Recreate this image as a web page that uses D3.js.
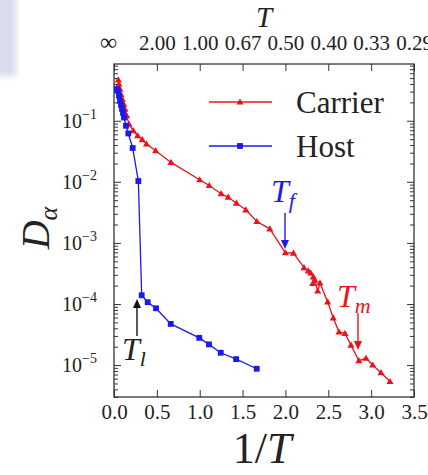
<!DOCTYPE html>
<html>
<head>
    <meta charset="utf-8">
    <title>D alpha vs 1/T</title>
    <style>
        body {
            margin: 0;
            background: #fff;
        }
        svg text {
            font-family: "Liberation Serif", "Times New Roman", "DejaVu Serif", "Noto Serif", serif !important;
            fill: #222;
        }
    </style>
    <script src="https://cdnjs.cloudflare.com/ajax/libs/d3/7.8.5/d3.min.js"></script>
</head>
<body>
    <div id="chart"></div>
    <script>
        // values (x = 1/T, y = D_alpha)
        const carrierX = [0.05, 0.058, 0.07, 0.082, 0.097, 0.113, 0.128, 0.148, 0.175, 0.225, 0.276, 0.33, 0.38, 0.486,
            0.665, 1.0, 1.111, 1.25, 1.333, 1.429, 1.538, 1.667, 1.818, 2.0, 2.094, 2.217, 2.267, 2.295, 2.325, 2.318,
            2.345, 2.377, 2.403, 2.493, 2.558, 2.625, 2.695, 2.765, 2.857, 2.94, 3.018, 3.115, 3.22];
        const carrierY = [0.467, 0.40, 0.33, 0.27, 0.226, 0.187, 0.155, 0.121, 0.088, 0.0687, 0.057, 0.049, 0.0416, 0.0324,
            0.0208, 0.0108, 0.0087, 0.0064, 0.0056, 0.00447, 0.00348, 0.00224, 0.0017, 0.00069, 0.00068, 3.94e-4, 3.47e-4,
            3.21e-4, 2.77e-4, 2.16e-4, 2.45e-4, 1.63e-4, 2.21e-4, 1.08e-4, 5.9e-5, 3.5e-5, 3.29e-5, 2.12e-5, 1.18e-5,
            1.29e-5, 1.0e-5, 7.5e-6, 5.37e-6];

        const hostX = [0.035, 0.045, 0.058, 0.07, 0.082, 0.093, 0.105, 0.117, 0.14, 0.167, 0.218, 0.284, 0.323, 0.393,
            0.49, 0.662, 0.995, 1.108, 1.245, 1.425, 1.665];
        const hostY = [0.33, 0.31, 0.257, 0.212, 0.182, 0.157, 0.135, 0.113, 0.0828, 0.062, 0.0358, 0.0103, 1.39e-4,
            1.07e-4, 8.5e-5, 4.72e-5, 2.79e-5, 2.18e-5, 1.59e-5, 1.25e-5, 8.7e-6];

        const xTicks = [0.0, 0.5, 1.0, 1.5, 2.0, 2.5, 3.0, 3.5];
        const topTickLabels = ['\u221E', '2.00', '1.00', '0.67', '0.50', '0.40', '0.33', '0.29'];
        const yExponents = [-1, -2, -3, -4, -5];

        const W = 428, H = 475;
        const m = { left: 114, right: 414, top: 64, bottom: 397 };
        const serif = '"Liberation Serif", "Times New Roman", "DejaVu Serif", serif';

        const svg = d3.select('#chart').append('svg')
            .attr('width', W)
            .attr('height', H)
            .attr('font-family', serif);

        // faint slide background at the top-left corner
        const defs = svg.append('defs');
        defs.append('filter').attr('id', 'blur')
            .append('feGaussianBlur').attr('stdDeviation', 3);
        svg.append('rect')
            .attr('x', -6).attr('y', -6).attr('width', 22).attr('height', 82)
            .attr('fill', '#d9dcef')
            .attr('filter', 'url(#blur)');

        const x = d3.scaleLinear().domain([0, 3.5]).range([m.left, m.right]);
        const y = d3.scaleLog().domain([3e-6, 0.85]).range([m.bottom, m.top]);

        const frame = '#333';

        // axes with inward ticks
        const bottomAxis = d3.axisBottom(x).tickValues(xTicks).tickSizeInner(-7).tickSizeOuter(0).tickFormat(d3.format('.1f'));
        const topAxis = d3.axisTop(x).tickValues(xTicks).tickSizeInner(-7).tickSizeOuter(0).tickFormat((d, i) => topTickLabels[i]);

        const majors = yExponents.map(e => Math.pow(10, e));
        const minors = [];
        for (let e = -6; e <= -1; e++) {
            for (let k = 2; k <= 9; k++) {
                const v = k * Math.pow(10, e);
                if (v >= 3e-6 && v <= 0.85) minors.push(v);
            }
        }

        const gB = svg.append('g').attr('transform', `translate(0,${m.bottom})`).call(bottomAxis);
        gB.selectAll('text').attr('dy', null).attr('y', 22).style('font-size', '21px');

        const gT = svg.append('g').attr('transform', `translate(0,${m.top})`).call(topAxis);
        gT.selectAll('text').attr('y', -14).style('font-size', '21px');
        gT.selectAll('text').filter((d, i) => i === 0).attr('x', -6).style('font-size', '24px');

        svg.append('g').attr('transform', `translate(${m.left},0)`)
            .call(d3.axisLeft(y).tickValues(majors).tickSizeInner(-7).tickSizeOuter(0).tickFormat(''));
        svg.append('g').attr('transform', `translate(${m.left},0)`)
            .call(d3.axisLeft(y).tickValues(minors).tickSizeInner(-4).tickSizeOuter(0).tickFormat(''));
        svg.append('g').attr('transform', `translate(${m.right},0)`)
            .call(d3.axisRight(y).tickValues(majors).tickSizeInner(-7).tickSizeOuter(0).tickFormat(''));
        svg.append('g').attr('transform', `translate(${m.right},0)`)
            .call(d3.axisRight(y).tickValues(minors).tickSizeInner(-4).tickSizeOuter(0).tickFormat(''));

        svg.selectAll('.domain').remove();
        svg.selectAll('g').attr('font-family', serif);
        svg.selectAll('.tick line').attr('stroke', frame).attr('stroke-width', 1);
        svg.selectAll('.tick text').attr('fill', '#222');

        // y tick labels 10^-n
        const yLab = svg.append('g');
        yExponents.forEach(e => {
            const t = yLab.append('text')
                .attr('x', 62)
                .attr('y', y(Math.pow(10, e)) + 7)
                .style('font-size', '20px');
            t.append('tspan').text('10');
            t.append('tspan').attr('dy', -9).style('font-size', '14px').text('\u2212' + (-e));
        });

        // frame
        svg.append('rect')
            .attr('x', m.left).attr('y', m.top)
            .attr('width', m.right - m.left).attr('height', m.bottom - m.top)
            .attr('fill', 'none')
            .attr('stroke', frame)
            .attr('stroke-width', 1.3);

        // series
        const carrier = carrierX.map((v, i) => [v, carrierY[i]]);
        const host = hostX.map((v, i) => [v, hostY[i]]);
        const line = d3.line().x(d => x(d[0])).y(d => y(d[1]));
        const tri = d3.symbol().type(d3.symbolTriangle).size(22);
        const sq = d3.symbol().type(d3.symbolSquare).size(34);
        const red = '#e8141c', blue = '#1a1aee';

        svg.append('path').datum(carrier).attr('d', line)
            .attr('fill', 'none').attr('stroke', red).attr('stroke-width', 1.3);
        svg.selectAll('path.tri').data(carrier).join('path').attr('class', 'tri')
            .attr('d', tri).attr('fill', red)
            .attr('transform', d => `translate(${x(d[0])},${y(d[1]) + 0.5})`);

        svg.append('path').datum(host).attr('d', line)
            .attr('fill', 'none').attr('stroke', blue).attr('stroke-width', 1.3);
        svg.selectAll('path.sq').data(host).join('path').attr('class', 'sq')
            .attr('d', sq).attr('fill', blue)
            .attr('transform', d => `translate(${x(d[0])},${y(d[1])})`);

        // legend
        const legend = [
            { label: 'Carrier', color: red, sym: tri, y: 102 },
            { label: 'Host', color: blue, sym: sq, y: 146 }
        ];
        legend.forEach(l => {
            svg.append('line').attr('x1', 209).attr('x2', 272).attr('y1', l.y).attr('y2', l.y)
                .attr('stroke', l.color).attr('stroke-width', 1.3);
            svg.append('path').attr('d', l.sym).attr('fill', l.color)
                .attr('transform', `translate(240,${l.y + (l.sym === tri ? 0.5 : 0)})`);
            svg.append('text').attr('x', 296).attr('y', l.y + 11)
                .style('font-size', '31px').text(l.label);
        });

        // annotations
        function arrow(xp, y1, y2, color) {
            const dir = y2 > y1 ? 1 : -1;
            svg.append('line').attr('x1', xp).attr('x2', xp).attr('y1', y1).attr('y2', y2 - dir * 7)
                .attr('stroke', color).attr('stroke-width', 1.4);
            svg.append('path')
                .attr('d', `M${xp - 4},${y2 - dir * 9}L${xp + 4},${y2 - dir * 9}L${xp},${y2}Z`)
                .attr('fill', color);
        }
        function label(xp, yp, main, sub, color) {
            const t = svg.append('text').attr('x', xp).attr('y', yp)
                .style('font-size', '32px').style('font-style', 'italic').style('fill', color);
            t.append('tspan').text(main);
            t.append('tspan').attr('dy', 6).style('font-size', '22px').text(sub);
        }
        arrow(285, 213, 249, blue);
        label(271, 202, 'T', 'f', blue);
        arrow(358, 313, 350, red);
        label(337, 307, 'T', 'm', red);
        arrow(137, 336, 299, '#111');
        label(122, 360, 'T', 'l', '#222');

        // axis titles
        svg.append('text').attr('x', 264).attr('y', 27).attr('text-anchor', 'middle')
            .style('font-size', '29px').style('font-style', 'italic').text('T');
        const xt = svg.append('text').attr('x', 262).attr('y', 463).attr('text-anchor', 'middle')
            .style('font-size', '44px');
        xt.append('tspan').text('1/');
        xt.append('tspan').style('font-style', 'italic').text('T');

        const yt = svg.append('text').attr('transform', 'translate(49,228) rotate(-90)')
            .attr('text-anchor', 'middle').style('font-size', '40px');
        yt.append('tspan').style('font-style', 'italic').text('D');
        yt.append('tspan').attr('dy', 8).style('font-size', '26px').style('font-style', 'italic').text('\u03B1');
    </script>
</body>
</html>
